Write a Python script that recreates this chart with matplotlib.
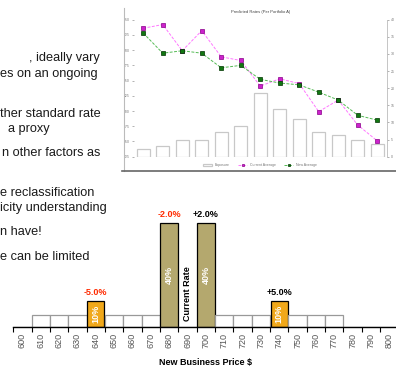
import matplotlib
matplotlib.use("Agg")
import matplotlib.pyplot as plt
from matplotlib.lines import Line2D

plt.rcParams['font.family'] = ['Liberation Sans', 'DejaVu Sans']

# slide text fragments (cut off on the left) with pixel position
slide_lines = [", ideally vary", "es on an ongoing", "ther standard rate", "a proxy",
               "n other factors as", "e reclassification", "icity understanding",
               "n have!", "e can be limited"]
slide_x = [29, 0, 0, 8, 2, 0, 0, 0, 0]
slide_y = [58, 73.5, 114, 129, 153, 193, 208.5, 232, 256.5]

# small inset chart
inset_groups = list(range(13))
current_avg = [736, 742, 699, 732, 689, 683, 641, 653, 645, 599, 618, 577, 551]
new_avg = [728, 695, 699, 695, 671, 675, 652, 646, 643, 631, 618, 593, 585]
exposure = [2.2, 3.1, 4.9, 4.9, 7.1, 8.9, 18.6, 13.9, 10.9, 7.1, 6.3, 4.9, 3.7]

# main bar chart
prices = list(range(600, 810, 10))
share = [0, 4.7, 4.7, 4.7, 10, 4.7, 4.7, 4.7, 40, 0, 40,
         4.7, 4.7, 4.7, 10, 4.7, 4.7, 4.7, 0, 0, 0]
change_labels = {640: "-5.0%", 680: "-2.0%", 700: "+2.0%", 740: "+5.0%"}

W, H = 396, 372
fig = plt.figure(figsize=(W / 100, H / 100), dpi=100)

for s, x, y in zip(slide_lines, slide_x, slide_y):
    fig.text(x / W, 1 - y / H, s, ha='left', va='center', fontsize=9.2, color='#1a1a1a')

# ---- inset ----
ax_in = fig.add_axes([133.5 / W, 1 - 156.7 / H, (387 - 133.5) / W, (156.7 - 19.7) / H])
ax_r = ax_in.twinx()
ax_r.bar(inset_groups, exposure, width=0.67, color='white', edgecolor='#c8c8c8', lw=0.9,
         label='Exposure')
ax_in.plot(inset_groups, current_avg, ls='--', dashes=(3, 1.5), color='#ff77ff', lw=0.7,
           marker='s', ms=3, mfc='#cc22cc', mec='#880088', mew=0.5, label='Current Average')
ax_in.plot(inset_groups, new_avg, ls='--', dashes=(3, 1.5), color='#55bb55', lw=0.7,
           marker='s', ms=3, mfc='#117711', mec='#003300', mew=0.5, label='New Average')
ax_in.set_zorder(ax_r.get_zorder() + 1)
ax_in.patch.set_visible(False)
ax_in.set_xlim(-0.5, 12.5)
ax_in.set_ylim(525, 750)
ax_in.set_yticks(range(525, 751, 25))
ax_r.set_ylim(0, 40)
ax_r.set_yticks(range(0, 41, 5))
ax_in.set_xticks([])
for a in (ax_in, ax_r):
    for sp in a.spines.values():
        sp.set_visible(False)
    a.tick_params(labelsize=2.5, colors='#777', length=1.5, width=0.4, pad=1)
ax_r.spines['right'].set_visible(True)
ax_r.spines['right'].set_color('#bbb')
ax_r.spines['right'].set_linewidth(0.6)
ax_in.set_title("Predicted Rates (Per Portfolio A)", fontsize=3, color='#444', pad=5)
h1, l1 = ax_r.get_legend_handles_labels()
h2, l2 = ax_in.get_legend_handles_labels()
fig.legend(h1 + h2, l1 + l2, loc='center', bbox_to_anchor=(260 / W, 1 - 165 / H), ncol=3,
           frameon=False, fontsize=2.5, handlelength=2.5, markerscale=0.7, columnspacing=2.5,
           labelcolor='#777')
fig.add_artist(Line2D([124 / W, 124 / W], [1 - 8 / H, 1 - 171 / H], color='#bbbbbb', lw=0.8))
fig.add_artist(Line2D([122 / W, 1.0], [1 - 171.5 / H, 1 - 171.5 / H], color='#666666', lw=1.2))

# ---- main bar chart ----
px_per_pct = 103.7 / 40
top = 45
ax = fig.add_axes([13.2 / W, 1 - 327 / H, (398.5 - 13.2) / W, top * px_per_pct / H])
idx = list(range(len(prices)))
colors, edges, widths = [], [], []
for v in share:
    if v >= 40:
        colors.append('#b4a86e'); edges.append('black'); widths.append(0.95)
    elif v >= 10:
        colors.append('#f0a81a'); edges.append('black'); widths.append(0.95)
    else:
        colors.append('white'); edges.append('#999999'); widths.append(1.0)
ax.bar(idx, share, width=widths, color=colors, edgecolor=edges, lw=0.9)

for i, (p, v) in enumerate(zip(prices, share)):
    if v >= 10:
        ax.text(i, v / 2, f"{v:.0f}%", rotation=90, ha='center', va='center', color='white',
                fontsize=6.5, fontweight='bold')
    if p in change_labels:
        lab = change_labels[p]
        ax.text(i, v + 3.3, lab, ha='center', va='center', fontsize=6.5, fontweight='bold',
                color='#ff2a00' if lab.startswith('-') else 'black', clip_on=False)
ax.text(prices.index(690), 13, "Current Rate", rotation=90, ha='center', va='center',
        fontsize=6.5, fontweight='bold', color='black')

ax.set_xlim(-0.5, 20.5)
ax.set_ylim(0, top)
for sp in ('top', 'left', 'right'):
    ax.spines[sp].set_visible(False)
ax.spines['bottom'].set_linewidth(1.0)
ax.set_yticks([])
ax.set_xticks(idx)
ax.set_xticklabels([str(p) for p in prices], rotation=90, fontsize=6.5, color='#555')
ax.set_xticks([i - 0.5 for i in range(len(prices) + 1)], minor=True)
ax.tick_params(axis='x', which='major', length=0, pad=4.5)
ax.tick_params(axis='x', which='minor', length=3.5, width=0.8)
ax.set_xlabel("New Business Price $", fontsize=6.5, fontweight='bold', labelpad=7)

fig.savefig("out.png", dpi=100)
